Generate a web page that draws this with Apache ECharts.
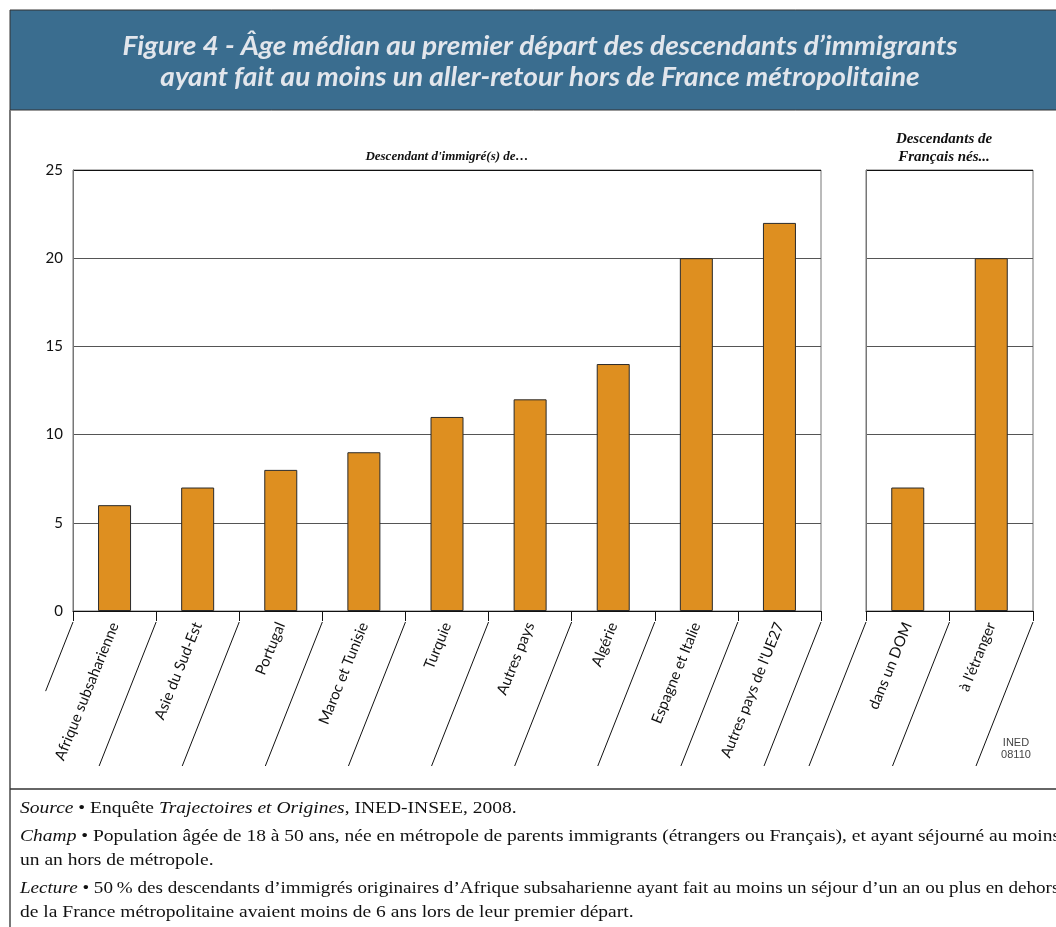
<!DOCTYPE html>
<html>
<head>
<meta charset="utf-8">
<script src="https://cdn.jsdelivr.net/npm/echarts@6/dist/echarts.min.js"></script>
<style>
  html, body { margin: 0; padding: 0; background: #fff; }
  #chart { width: 1056px; height: 927px; }
</style>
</head>
<body>
<div id="chart"></div>
<script>
// descendants of immigrants, by parents' origin
const origins = ['Afrique subsaharienne', 'Asie du Sud-Est', 'Portugal', 'Maroc et Tunisie', 'Turquie', 'Autres pays', 'Algérie', 'Espagne et Italie', "Autres pays de l'UE27"]
const originAges = [6, 7, 8, 9, 11, 12, 14, 20, 22]
// descendants of French people born...
const birthplaces = ['dans un DOM', "à l'étranger"]
const birthplaceAges = [7, 20]
const yTicks = [0, 5, 10, 15, 20, 25]

const titleLines = [
  'Figure 4 - Âge médian au premier départ des descendants d’immigrants',
  'ayant fait au moins un aller-retour hors de France métropolitaine'
]
const footerLines = [
  '{i|Source} • Enquête {i|Trajectoires et Origines}, INED-INSEE, 2008.',
  '{i|Champ} • Population âgée de 18 à 50 ans, née en métropole de parents immigrants (étrangers ou Français), et ayant séjourné au moins',
  'un an hors de métropole.',
  '{i|Lecture} • 50\u2009% des descendants d’immigrés originaires d’Afrique subsaharienne ayant fait au moins un séjour d’un an ou plus en dehors',
  'de la France métropolitaine avaient moins de 6 ans lors de leur premier départ.'
]
// full (justified) lines stretch to the right edge
const footerFull = [false, true, false, true, false]

const BAR = '#de8f20'
const LABEL_FONT = 'Lato, "Noto Sans", sans-serif'
const SERIF = '"Liberation Serif", "Times New Roman", serif'

function measure(text, font) {
  const ctx = document.createElement('canvas').getContext('2d')
  ctx.font = font
  return ctx.measureText(text.replace(/\{i\|([^}]*)\}/g, '$1')).width
}

const titleFont = 'italic bold 26px Lato'
const titleScale = 835 / measure(titleLines[0], titleFont)
const footFont = '17.5px "Liberation Serif"'
const footScale = 1040 / measure(footerLines[1], footFont)

function yAxis(idx, showLabels) {
  return {
    type: 'value',
    gridIndex: idx,
    min: yTicks[0],
    max: yTicks[yTicks.length - 1],
    interval: yTicks[1] - yTicks[0],
    axisLine: { show: true, lineStyle: { color: '#777', width: 1 } },
    axisTick: { show: false },
    axisLabel: { show: showLabels, color: '#111', fontSize: 15, fontFamily: LABEL_FONT, margin: 10 },
    splitLine: { show: true, lineStyle: { color: ['#111', '#555', '#555', '#555', '#555', '#111'], width: 1 } }
  }
}

function xAxis(idx, cats) {
  return {
    type: 'category',
    gridIndex: idx,
    data: cats,
    boundaryGap: true,
    axisLine: { show: true, lineStyle: { color: '#111', width: 1 } },
    axisTick: { show: true, length: 10, lineStyle: { color: '#111', width: 1 } },
    axisLabel: { interval: 0, rotate: 68, margin: 12, color: '#111', fontSize: 15, fontFamily: LABEL_FONT },
    splitLine: { show: false }
  }
}

// slanted separators under the axis, one per category boundary
function slantSeries(idx, cats, shortFirst) {
  return {
    type: 'custom',
    xAxisIndex: idx,
    yAxisIndex: idx,
    silent: true,
    clip: false,
    data: cats.map((c, i) => [i, 0]),
    renderItem(params, api) {
      const i = api.value(0)
      const p = api.coord([i, 0])
      const bw = api.size([1, 0])[0]
      const lines = []
      const add = (x, k) => lines.push({
        type: 'line',
        shape: { x1: x, y1: p[1] + 11, x2: x - 57 * k, y2: p[1] + 11 + 144 * k },
        style: { stroke: '#111', lineWidth: 1 }
      })
      add(p[0] - bw / 2, shortFirst && i === 0 ? 0.48 : 1)
      if (i === cats.length - 1) add(p[0] + bw / 2, 1)
      return { type: 'group', children: lines }
    }
  }
}

function barSeries(idx, values) {
  return {
    type: 'bar',
    xAxisIndex: idx,
    yAxisIndex: idx,
    data: values,
    barWidth: 33,
    itemStyle: { color: BAR, borderColor: '#2a2a2a', borderWidth: 1 },
    silent: true
  }
}

function text(x, y, str, style) {
  return { type: 'text', x, y, silent: true, style: Object.assign({ text: str, align: 'center', textAlign: 'center', verticalAlign: 'middle', textVerticalAlign: 'middle' }, style) }
}

const graphics = [
  { type: 'rect', shape: { x: 10, y: 10, width: 1060, height: 100 }, style: { fill: '#3a6d8f', stroke: '#333', lineWidth: 1 }, silent: true },
  { type: 'line', shape: { x1: 10, y1: 110, x2: 10, y2: 927 }, style: { stroke: '#777', lineWidth: 2 }, silent: true },
  { type: 'line', shape: { x1: 10, y1: 789, x2: 1056, y2: 789 }, style: { stroke: '#333', lineWidth: 1.5 }, silent: true },
  text(447, 157, 'Descendant d\'immigré(s) de…', { font: 'italic bold 13px ' + SERIF, fill: '#111' }),
  text(944, 139, 'Descendants de', { font: 'italic bold 15px ' + SERIF, fill: '#111' }),
  text(944, 157, 'Français nés...', { font: 'italic bold 15px ' + SERIF, fill: '#111' }),
  text(1016, 743, 'INED', { font: '11px "Liberation Sans Narrow", "Liberation Sans", sans-serif', fill: '#444' }),
  text(1016, 755, '08110', { font: '11px "Liberation Sans Narrow", "Liberation Sans", sans-serif', fill: '#444' })
]

const titleY = [47, 78]
titleLines.forEach((t, k) => {
  graphics.push({
    type: 'group', x: 540, y: titleY[k], scaleX: titleScale, silent: true,
    children: [text(0, 0, t, { font: titleFont, fill: '#e2e6ec' })]
  })
})

const footY = [808, 836, 860, 888, 912]
footerLines.forEach((t, k) => {
  const sx = footerFull[k] ? 1040 / measure(t, footFont) : footScale
  graphics.push({
    type: 'group', x: 20, y: footY[k], scaleX: sx, silent: true,
    children: [{
      type: 'text', x: 0, y: 0, silent: true,
      style: {
        text: t, font: footFont, fill: '#111', align: 'left', textAlign: 'left', verticalAlign: 'middle', textVerticalAlign: 'middle',
        rich: { i: { fontStyle: 'italic', fontSize: 17.5, fontFamily: 'Liberation Serif', fill: '#111' } }
      }
    }]
  })
})

const chart = echarts.init(document.getElementById('chart'), null, { renderer: 'canvas' })

chart.setOption({
  animation: false,
  backgroundColor: '#fff',
  grid: [
    { left: 73, top: 170, width: 748, height: 441, show: true, borderColor: '#777', borderWidth: 1, containLabel: false, outerBoundsMode: 'none' },
    { left: 866, top: 170, width: 167, height: 441, show: true, borderColor: '#777', borderWidth: 1, containLabel: false, outerBoundsMode: 'none' }
  ],
  xAxis: [xAxis(0, origins), xAxis(1, birthplaces)],
  yAxis: [yAxis(0, true), yAxis(1, false)],
  series: [
    barSeries(0, originAges),
    barSeries(1, birthplaceAges),
    slantSeries(0, origins, true),
    slantSeries(1, birthplaces, false)
  ],
  graphic: graphics
})
</script>
</body>
</html>
